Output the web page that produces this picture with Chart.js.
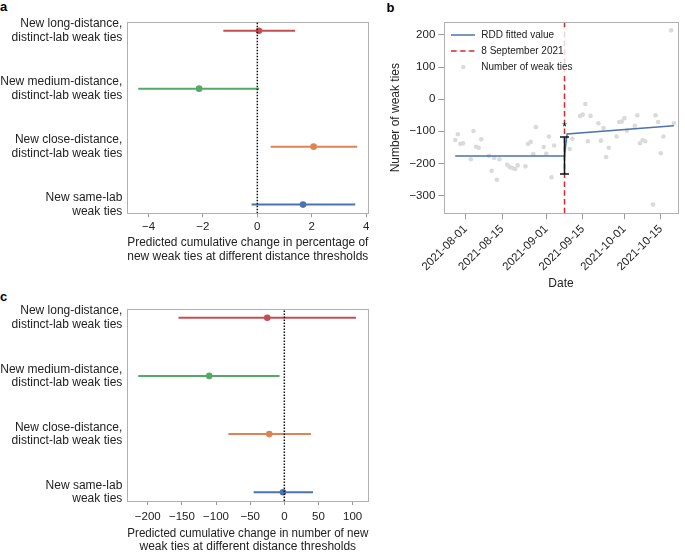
<!DOCTYPE html>
<html><head><meta charset="utf-8">
<script src="https://cdn.jsdelivr.net/npm/chart.js@4/dist/chart.umd.min.js"></script>
<style>
html,body{margin:0;padding:0;background:#fff;overflow:hidden;width:685px;height:552px;}
canvas{position:absolute;}
.lbl{position:absolute;font:bold 13px "Liberation Sans",Arial,sans-serif;line-height:13px;color:#000;}
</style></head><body>
<div class="lbl" style="left:0;top:0">a</div>
<div class="lbl" style="left:386.5px;top:0.7px">b</div>
<div class="lbl" style="left:0;top:289.7px">c</div>
<canvas id="ca" width="380" height="275" style="left:0;top:0"></canvas>
<canvas id="cb" width="305" height="300" style="left:380px;top:0"></canvas>
<canvas id="cc" width="380" height="276" style="left:0;top:280px"></canvas>
<script>
// ---------- data: panels a & c ----------
const tieTypes = [
  ['New long-distance,', 'distinct-lab weak ties'],
  ['New medium-distance,', 'distinct-lab weak ties'],
  ['New close-distance,', 'distinct-lab weak ties'],
  ['New same-lab', 'weak ties']
];
const typeColors = ['#c44e52', '#55a868', '#dd8452', '#4c72b0'];
const typeRows = [3, 2, 1, 0];

const pctEstimate = [0.06, -2.14, 2.07, 1.68];
const pctLower = [-1.25, -4.38, 0.49, -0.21];
const pctUpper = [1.39, 0.07, 3.67, 3.60];
const pctTicks = [-4, -2, 0, 2, 4];
const pctTitle = ['Predicted cumulative change in percentage of', 'new weak ties at different distance thresholds'];

const numEstimate = [-25, -110, -22, -2];
const numLower = [-155, -214, -82, -45];
const numUpper = [105, -7, 39, 42];
const numTicks = [-200, -150, -100, -50, 0, 50, 100];
const numTitle = ['Predicted cumulative change in number of new', 'weak ties at different distance thresholds'];

// ---------- data: panel b ----------
const tieDates = [
  '2021-07-28','2021-07-29','2021-07-30','2021-07-31',
  '2021-08-03','2021-08-04','2021-08-05','2021-08-06','2021-08-07',
  '2021-08-10','2021-08-11','2021-08-12','2021-08-13','2021-08-14',
  '2021-08-17','2021-08-18','2021-08-19','2021-08-20','2021-08-21',
  '2021-08-24','2021-08-25','2021-08-26','2021-08-27','2021-08-28',
  '2021-08-31','2021-09-01','2021-09-02','2021-09-03','2021-09-04',
  '2021-09-10','2021-09-11',
  '2021-09-14','2021-09-15','2021-09-16','2021-09-17','2021-09-18',
  '2021-09-21','2021-09-22','2021-09-23','2021-09-24','2021-09-25',
  '2021-09-28','2021-09-29','2021-09-30','2021-10-01','2021-10-02',
  '2021-10-05','2021-10-06','2021-10-07','2021-10-08','2021-10-09',
  '2021-10-12','2021-10-13','2021-10-14','2021-10-15','2021-10-16',
  '2021-10-19','2021-10-20'
];
const weakTies = [
  -127, -109, -139, -137,
  -187, -99, -148, -151, -125,
  -176, -223, -183, -251, -187,
  -204, -212, -214, -217, -206,
  -209, -139, -133, -171, -87,
  -149, -170, -116, -243, -144,
  -155, -123,
  -52, -48, -15, -131, -52,
  -75, -129, -90, -180, -151,
  -116, -71, -70, -59, -98,
  -83, -50, -137, -127, -131,
  -328, -50, -71, -168, -116,
  214, -75
];
const rddDates = ['2021-07-28', '2021-09-08', '2021-09-09', '2021-10-20'];
const rddValues = [-177, -177, -108, -83];
const cutoffDate = '2021-09-08';
const jumpCiLow = -233;
const jumpCiHigh = -118;
const starValue = -80;
const dateTicks = ['2021-08-01', '2021-08-15', '2021-09-01', '2021-09-15', '2021-10-01', '2021-10-15'];
const tieTicks = [-300, -200, -100, 0, 100, 200];
const legendLabels = ['RDD fitted value', '8 September 2021', 'Number of weak ties'];

// ---------- styling ----------
const FONT = '"Liberation Sans", Arial, Helvetica, sans-serif';
const TXT = '#222';
const FRAME = '#b0b0b0';
const TICKC = '#9a9a9a';
const RDD_COLOR = '#4c72b0';
const CUT_COLOR = '#d62728';
const PT_COLOR = '#dadada';
const CUT_DASH = [5.5, 3.3];

Chart.defaults.font.family = FONT;
Chart.defaults.color = TXT;
Chart.defaults.animation = false;
Chart.defaults.events = [];

const fmtMinus = v => (v < 0 ? '\u2212' + Math.abs(v) : String(v));
const dayOf = s => (Date.UTC(+s.slice(0, 4), +s.slice(5, 7) - 1, +s.slice(8, 10)) - Date.UTC(2021, 7, 1)) / 864e5;

const framePlugin = {
  id: 'frame',
  beforeDatasetsDraw(chart) {
    const { ctx, chartArea: a } = chart;
    ctx.save();
    ctx.strokeStyle = FRAME;
    ctx.lineWidth = 1;
    const l = Math.round(a.left), t = Math.round(a.top), r = Math.round(a.right), b = Math.round(a.bottom);
    ctx.strokeRect(l + 0.5, t + 0.5, r - l, b - t);
    ctx.restore();
  }
};

function forest(id, est, lo, hi, ticks, xMin, xMax, title, L) {
  const yMin = -0.15, yMax = 3.15;
  const datasets = [
    { data: [{ x: 0, y: yMin }, { x: 0, y: yMax }], showLine: true, borderColor: '#111', borderWidth: 1.5,
      borderDash: [1.5, 1.5], pointRadius: 0 },
    { data: est.map((v, i) => ({ x: v, y: typeRows[i] })), pointRadius: 3.3, pointBorderWidth: 0,
      pointBackgroundColor: typeColors, backgroundColor: typeColors }
  ];
  est.forEach((_, i) => datasets.push({
    data: [{ x: lo[i], y: typeRows[i] }, { x: hi[i], y: typeRows[i] }], showLine: true,
    borderColor: typeColors[i], borderWidth: 2, pointRadius: 0
  }));
  return new Chart(document.getElementById(id), {
    type: 'scatter',
    data: { datasets },
    options: {
      responsive: false, devicePixelRatio: 1,
      layout: { padding: { left: 0, right: L.padRight, top: L.padTop, bottom: 0 } },
      plugins: { legend: { display: false }, tooltip: { enabled: false } },
      scales: {
        x: {
          type: 'linear', min: xMin, max: xMax,
          afterBuildTicks: s => { s.ticks = ticks.map(v => ({ value: v })); },
          afterFit: s => { s.height = L.axisH; },
          border: { display: false },
          grid: { display: true, drawOnChartArea: false, drawTicks: true, tickLength: 4, tickColor: TICKC, tickWidth: 1 },
          ticks: { font: { size: 11.5 }, padding: L.tickPad, maxRotation: 0, autoSkip: false, color: TXT,
                   callback: v => fmtMinus(v) },
          title: { display: true, text: title, color: TXT, font: { size: 12, lineHeight: 1.15 },
                   padding: { top: 0, bottom: L.titlePad } }
        },
        y: {
          type: 'linear', min: yMin, max: yMax,
          afterBuildTicks: s => { s.ticks = typeRows.slice().reverse().map(v => ({ value: v })); },
          afterFit: s => { s.width = L.axisW; },
          border: { display: false },
          grid: { display: false, drawTicks: false },
          ticks: { font: { size: 12, lineHeight: 1.1 }, padding: 5, color: TXT,
                   callback: v => tieTypes[typeRows.indexOf(v)] }
        }
      }
    },
    plugins: [framePlugin]
  });
}

forest('ca', pctEstimate, pctLower, pctUpper, pctTicks, -4.78, 4.08, pctTitle,
  { padRight: 11.7, padTop: 22, axisH: 61.7, axisW: 127.3, tickPad: 3, titlePad: 11.3 });
forest('cc', numEstimate, numLower, numUpper, numTicks, -230, 123, numTitle,
  { padRight: 11.7, padTop: 29, axisH: 55, axisW: 127.3, tickPad: 5, titlePad: 2 });

// ---------- panel b ----------
function legendMark(draw) {
  const c = document.createElement('canvas');
  c.width = 24; c.height = 8;
  draw(c.getContext('2d'));
  return c;
}
const markRdd = legendMark(g => { g.strokeStyle = RDD_COLOR; g.lineWidth = 1.5; g.beginPath(); g.moveTo(0, 4); g.lineTo(24, 4); g.stroke(); });
const markCut = legendMark(g => { g.strokeStyle = CUT_COLOR; g.lineWidth = 1.5; g.setLineDash(CUT_DASH); g.beginPath(); g.moveTo(0, 4); g.lineTo(24, 4); g.stroke(); });
const markPts = legendMark(g => { g.fillStyle = PT_COLOR; g.beginPath(); g.arc(12, 4, 2.3, 0, Math.PI * 2); g.fill(); });
const legendMarks = [markRdd, markCut, markPts];
const legendDatasetIdx = [1, 2, 3];

const bXMin = -8.2, bXMax = 81.5, bYMin = -355, bYMax = 240;
const cutDay = dayOf(cutoffDate);

const starPlugin = {
  id: 'star',
  afterDatasetsDraw(chart) {
    const { ctx, scales: { x, y } } = chart;
    ctx.save();
    ctx.font = '12px ' + FONT;
    ctx.fillStyle = '#111';
    ctx.textAlign = 'center';
    ctx.textBaseline = 'alphabetic';
    const m = ctx.measureText('*');
    const px = x.getPixelForValue(cutDay), py = y.getPixelForValue(starValue);
    ctx.fillText('*', px, py + (m.actualBoundingBoxAscent - m.actualBoundingBoxDescent) / 2);
    ctx.restore();
  }
};

// draw the legend above the data, on a translucent white frame (as in the original)
const legendOnTop = {
  id: 'legendOnTop',
  beforeLayout(chart) {
    const lg = chart.legend;
    if (!lg || lg._onTop) return;
    lg._onTop = true;
    lg._layers = () => [{
      z: 10,
      draw(area) {
        const a = chart.chartArea, ctx = chart.ctx;
        ctx.save();
        ctx.fillStyle = 'rgba(255,255,255,0.8)';
        ctx.fillRect(a.left + 3.5, a.top + 5, 130, 49);
        ctx.restore();
        lg.draw(area);
      }
    }];
  }
};

new Chart(document.getElementById('cb'), {
  type: 'scatter',
  data: {
    datasets: [
      { label: 'CI', data: [{ x: cutDay, y: jumpCiHigh }, { x: cutDay, y: jumpCiLow }], showLine: true,
        borderColor: '#111', borderWidth: 1.5, pointStyle: 'line', pointRadius: 4.5, pointBorderWidth: 1.5,
        pointBorderColor: '#111' },
      { label: legendLabels[0], data: rddDates.map((d, i) => ({ x: dayOf(d), y: rddValues[i] })), showLine: true,
        borderColor: RDD_COLOR, borderWidth: 1.5, pointRadius: 0 },
      { label: legendLabels[1], data: [{ x: cutDay, y: bYMin }, { x: cutDay, y: bYMax }], showLine: true,
        borderColor: CUT_COLOR, borderWidth: 1.5, borderDash: CUT_DASH, pointRadius: 0 },
      { label: legendLabels[2], data: tieDates.map((d, i) => ({ x: dayOf(d), y: weakTies[i] })),
        pointRadius: 2.3, pointBorderWidth: 0, pointBackgroundColor: PT_COLOR, backgroundColor: PT_COLOR }
    ]
  },
  options: {
    responsive: false, devicePixelRatio: 1,
    layout: { padding: { left: 0, right: 7.3, top: 22, bottom: 0 } },
    plugins: {
      tooltip: { enabled: false },
      legend: {
        display: true, position: 'chartArea', align: 'start',
        title: { display: true, text: '', font: { size: 10 }, padding: { top: 6, bottom: 6 } },
        labels: {
          usePointStyle: true, pointStyleWidth: 26, boxHeight: 8, padding: 6,
          font: { size: 10 }, color: TXT,
          generateLabels: () => legendLabels.map((t, i) => ({
            text: t, pointStyle: legendMarks[i], fillStyle: 'rgba(0,0,0,0)', strokeStyle: 'rgba(0,0,0,0)',
            lineWidth: 0, hidden: false, datasetIndex: legendDatasetIdx[i], fontColor: TXT
          }))
        }
      }
    },
    scales: {
      x: {
        type: 'linear', min: bXMin, max: bXMax,
        afterBuildTicks: s => { s.ticks = dateTicks.map(d => ({ value: dayOf(d) })); },
        afterFit: s => { s.height = 86.7; },
        border: { display: false },
        grid: { display: true, drawOnChartArea: false, drawTicks: true, tickLength: 6, tickColor: TICKC },
        ticks: { font: { size: 11.5 }, padding: 3, autoSkip: false, minRotation: 45, maxRotation: 45, color: TXT,
                 callback: (v, i) => dateTicks[i] },
        title: { display: true, text: 'Date', color: TXT, font: { size: 12 }, padding: { top: 0, bottom: 8.8 } }
      },
      y: {
        type: 'linear', min: bYMin, max: bYMax,
        afterBuildTicks: s => { s.ticks = tieTicks.map(v => ({ value: v })); },
        afterFit: s => { s.width = 64.3; },
        border: { display: false },
        grid: { display: true, drawOnChartArea: false, drawTicks: true, tickLength: 6, tickColor: TICKC },
        ticks: { font: { size: 11.5 }, padding: 3, color: TXT, callback: v => fmtMinus(v) },
        title: { display: true, text: 'Number of weak ties', color: TXT, font: { size: 12 }, padding: { top: 8.8, bottom: 0 } }
      }
    }
  },
  plugins: [framePlugin, starPlugin, legendOnTop]
});
</script>
</body></html>
